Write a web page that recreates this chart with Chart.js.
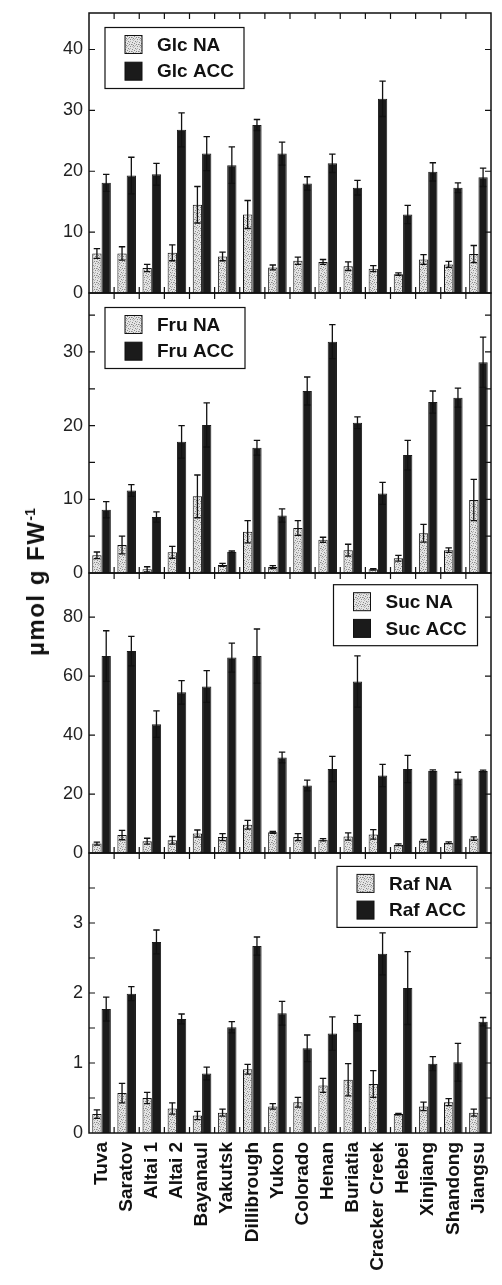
<!DOCTYPE html>
<html>
<head>
<meta charset="utf-8">
<title>Sugar content by accession</title>
<script src="https://cdn.jsdelivr.net/npm/chart.js@4.4.0/dist/chart.umd.min.js"></script>
<style>
  html, body { margin: 0; padding: 0; background: #fff; }
  #wrap { position: relative; width: 502px; height: 1285px; overflow: hidden; }
  .panel { position: absolute; left: 0; width: 502px; }
  #ytitle {
    position: absolute; left: 36px; top: 582px;
    transform: translate(-50%, -50%) rotate(-90deg);
    font: bold 24px "Liberation Sans", Arial, sans-serif;
    letter-spacing: 1.5px; white-space: nowrap; color: #111;
  }
  #ytitle sup { font-size: 14px; letter-spacing: 0; }
</style>
</head>
<body>
<div id="wrap">
  <div class="panel" style="top:3px;height:300px"><canvas id="glcChart"></canvas></div>
  <div class="panel" style="top:283px;height:300px"><canvas id="fruChart"></canvas></div>
  <div class="panel" style="top:563px;height:300px"><canvas id="sucChart"></canvas></div>
  <div class="panel" style="top:843px;height:442px"><canvas id="rafChart"></canvas></div>
  <div id="ytitle">µmol g FW<sup>-1</sup></div>
</div>
<script>
// Accessions (shared x axis)
const categories = ['Tuva', 'Saratov', 'Altai 1', 'Altai 2', 'Bayanaul', 'Yakutsk', 'Dillibrough', 'Yukon',
    'Colorado', 'Henan', 'Buriatia', 'Cracker Creek', 'Hebei', 'Xinjiang', 'Shandong', 'Jiangsu'];

// Glucose
const glcNA     = [6.5, 6.5, 4.1, 6.6, 14.5, 6.0, 12.9, 4.2, 5.3, 5.1, 4.4, 4.0, 3.1, 5.5, 4.7, 6.4];
const glcNAErr  = [0.8, 1.1, 0.6, 1.3, 3.0, 0.7, 2.3, 0.4, 0.6, 0.4, 0.7, 0.5, 0.2, 0.8, 0.5, 1.4];
const glcACC    = [18.1, 19.3, 19.5, 26.8, 22.9, 21.0, 27.6, 22.9, 18.0, 21.3, 17.3, 31.9, 12.9, 19.9, 17.3, 19.0];
const glcACCErr = [1.4, 3.0, 1.8, 2.8, 2.8, 3.0, 0.9, 1.9, 1.1, 1.5, 1.2, 2.9, 1.5, 1.5, 0.8, 1.5];

// Fructose
const fruNA     = [2.4, 3.8, 0.5, 2.8, 10.4, 1.1, 5.6, 0.8, 6.1, 4.5, 3.1, 0.5, 2.0, 5.4, 3.1, 9.9];
const fruNAErr  = [0.45, 1.2, 0.35, 0.8, 2.9, 0.2, 1.5, 0.2, 1.0, 0.35, 0.8, 0.1, 0.4, 1.2, 0.3, 2.8];
const fruACC    = [8.6, 11.2, 7.6, 17.8, 20.1, 2.9, 17.0, 7.8, 24.7, 31.4, 20.4, 10.8, 16.0, 23.2, 23.8, 28.6];
const fruACCErr = [1.1, 0.8, 0.7, 2.2, 3.0, 0.1, 1.0, 0.9, 1.9, 2.3, 0.8, 1.5, 2.0, 1.5, 1.3, 3.4];

// Sucrose
const sucNA     = [3.2, 6.1, 4.0, 4.3, 6.6, 5.4, 9.6, 7.0, 5.4, 4.5, 5.6, 6.3, 2.8, 4.2, 3.5, 4.9];
const sucNAErr  = [0.5, 1.6, 1.0, 1.3, 1.2, 1.2, 1.5, 0.3, 1.2, 0.4, 1.2, 1.6, 0.3, 0.4, 0.3, 0.6];
const sucACC    = [66.8, 68.5, 43.7, 54.5, 56.5, 66.3, 66.8, 32.4, 22.9, 28.5, 58.2, 26.3, 28.5, 27.9, 25.3, 27.8];
const sucACCErr = [8.6, 5.0, 4.5, 4.0, 5.4, 4.9, 9.2, 1.8, 1.8, 4.3, 8.7, 3.8, 4.6, 0.3, 2.1, 0.3];

// Raffinose
const rafNA     = [0.27, 0.57, 0.50, 0.35, 0.25, 0.29, 0.91, 0.38, 0.44, 0.68, 0.76, 0.70, 0.27, 0.38, 0.44, 0.29];
const rafNAErr  = [0.06, 0.14, 0.08, 0.08, 0.06, 0.05, 0.07, 0.04, 0.07, 0.10, 0.23, 0.19, 0.01, 0.06, 0.05, 0.05];
const rafACC    = [1.77, 1.99, 2.73, 1.63, 0.85, 1.51, 2.67, 1.71, 1.21, 1.42, 1.57, 2.56, 2.07, 0.99, 1.01, 1.59];
const rafACCErr = [0.17, 0.10, 0.17, 0.07, 0.09, 0.08, 0.13, 0.17, 0.19, 0.24, 0.11, 0.30, 0.52, 0.10, 0.27, 0.06];

const FONT = '"Liberation Sans", Arial, sans-serif';
const INK = '#111';

// Light stippled fill used for the NA bars (fixed, irregular dot layout)
function makeStipple() {
    const c = document.createElement('canvas');
    c.width = 7; c.height = 7;
    const g = c.getContext('2d');
    g.fillStyle = '#e4e4e4';
    g.fillRect(0, 0, 7, 7);
    g.fillStyle = '#888';
    [[0, 0], [4, 1], [2, 3], [6, 4], [1, 5], [5, 6], [3, 6]].forEach(([x, y]) => g.fillRect(x, y, 1, 1));
    g.fillStyle = '#b4b4b4';
    [[2, 0], [6, 1], [0, 2], [4, 3], [3, 4], [6, 6], [1, 1]].forEach(([x, y]) => g.fillRect(x, y, 1, 1));
    return g.createPattern(c, 'repeat');
}
const stipple = makeStipple();

/**
 * Draws +/- error bars on top of every bar, read from dataset.errors
 */
const errorBarPlugin = {
    id: 'errorBars',
    afterDatasetsDraw(chart) {
        const ctx = chart.ctx;
        const yScale = chart.scales.y;
        chart.data.datasets.forEach((ds, di) => {
            const meta = chart.getDatasetMeta(di);
            meta.data.forEach((bar, i) => {
                const v = ds.data[i];
                const e = ds.errors[i];
                const yHi = yScale.getPixelForValue(v + e);
                const yLo = yScale.getPixelForValue(Math.max(0, v - e));
                const cap = 3.2;
                ctx.save();
                ctx.strokeStyle = INK;
                ctx.lineWidth = 1.3;
                ctx.beginPath();
                ctx.moveTo(bar.x, yLo);
                ctx.lineTo(bar.x, yHi);
                ctx.moveTo(bar.x - cap, yHi);
                ctx.lineTo(bar.x + cap, yHi);
                ctx.moveTo(bar.x - cap, yLo);
                ctx.lineTo(bar.x + cap, yLo);
                ctx.stroke();
                ctx.restore();
            });
        });
    }
};

/**
 * Box frame with inward tick marks on all four sides
 */
const framePlugin = {
    id: 'frame',
    afterDraw(chart) {
        const ctx = chart.ctx;
        const a = chart.chartArea;
        const xScale = chart.scales.x;
        const yScale = chart.scales.y;
        const len = 6;
        ctx.save();
        ctx.strokeStyle = INK;
        ctx.lineWidth = 1.2;
        ctx.beginPath();
        // category boundaries, top and bottom
        for (let i = 1; i < categories.length; i++) {
            const px = xScale.getPixelForValue(i - 0.5);
            ctx.moveTo(px, a.top);
            ctx.lineTo(px, a.top + len);
            ctx.moveTo(px, a.bottom);
            ctx.lineTo(px, a.bottom - len);
        }
        // value ticks, left and right
        yScale.ticks.forEach(t => {
            if (t.value <= yScale.min || t.value >= yScale.max) return;
            const py = yScale.getPixelForValue(t.value);
            ctx.moveTo(a.left, py);
            ctx.lineTo(a.left + len, py);
            ctx.moveTo(a.right, py);
            ctx.lineTo(a.right - len, py);
        });
        ctx.stroke();
        ctx.lineWidth = 1.5;
        ctx.strokeRect(a.left, a.top, a.right - a.left, a.bottom - a.top);
        ctx.restore();
    }
};

/**
 * Boxed legend drawn inside the plot area
 */
const boxLegendPlugin = {
    id: 'boxLegend',
    afterDraw(chart, args, opts) {
        const ctx = chart.ctx;
        const a = chart.chartArea;
        const w = opts.width, h = 61;
        const bx = opts.align === 'right' ? a.right - opts.inset - w : a.left + opts.inset;
        const by = a.top + opts.offsetY;
        ctx.save();
        ctx.fillStyle = '#fff';
        ctx.fillRect(bx, by, w, h);
        ctx.strokeStyle = INK;
        ctx.lineWidth = 1.2;
        ctx.strokeRect(bx, by, w, h);
        ctx.font = 'bold 19px ' + FONT;
        ctx.textBaseline = 'middle';
        chart.data.datasets.forEach((ds, k) => {
            const sy = by + 8 + k * 26.7;
            ctx.fillStyle = ds.backgroundColor;
            ctx.fillRect(bx + 20, sy, 17, 18);
            ctx.lineWidth = 1;
            ctx.strokeRect(bx + 20, sy, 17, 18);
            ctx.fillStyle = INK;
            ctx.fillText(ds.label, bx + 52, sy + 10);
        });
        ctx.restore();
    }
};

function createPanel(canvasId, p) {
    const ctx = document.getElementById(canvasId);
    return new Chart(ctx, {
        type: 'bar',
        data: {
            labels: categories,
            datasets: [
                {
                    label: p.naLabel,
                    data: p.na,
                    errors: p.naErr,
                    backgroundColor: stipple,
                    borderColor: INK,
                    borderWidth: 1
                },
                {
                    label: p.accLabel,
                    data: p.acc,
                    errors: p.accErr,
                    backgroundColor: '#1b1b1b',
                    borderColor: '#1b1b1b',
                    borderWidth: 1
                }
            ]
        },
        options: {
            responsive: true,
            maintainAspectRatio: false,
            animation: false,
            devicePixelRatio: 1,
            categoryPercentage: 0.74,
            barPercentage: 1.0,
            layout: {
                padding: { top: 10, bottom: p.bottom ? 0 : 10, left: 0, right: 11 }
            },
            plugins: {
                legend: { display: false },
                tooltip: { enabled: false },
                boxLegend: p.legend
            },
            scales: {
                x: {
                    display: !!p.bottom,
                    grid: { display: false, drawTicks: false },
                    border: { display: false },
                    ticks: {
                        autoSkip: false,
                        minRotation: 90,
                        maxRotation: 90,
                        padding: 9,
                        color: INK,
                        font: { family: FONT, size: 19, weight: 'bold' }
                    },
                    afterFit: scale => {
                        scale.height = p.bottom ? 152 : 0;
                        scale.paddingLeft = 0;
                        scale.paddingRight = 0;
                    }
                },
                y: {
                    min: 0,
                    max: p.max,
                    grid: { display: false, drawTicks: false },
                    border: { display: false },
                    ticks: {
                        stepSize: p.step,
                        includeBounds: false,
                        padding: 6,
                        color: '#222',
                        font: { family: FONT, size: 18 },
                        callback: v => (v <= p.labelMax && Math.abs(v / p.labelStep - Math.round(v / p.labelStep)) < 1e-6) ? v : ''
                    },
                    afterFit: scale => {
                        scale.width = 89;
                        // let the frame sit exactly on the layout padding
                        scale.paddingTop = 0;
                        scale.paddingBottom = 0;
                    }
                }
            }
        },
        plugins: [errorBarPlugin, framePlugin, boxLegendPlugin]
    });
}

createPanel('glcChart', {
    naLabel: 'Glc NA', accLabel: 'Glc ACC',
    na: glcNA, naErr: glcNAErr, acc: glcACC, accErr: glcACCErr,
    max: 46, step: 10, labelStep: 10, labelMax: 40,
    legend: { align: 'left', inset: 16, offsetY: 14.5, width: 139 }
});
createPanel('fruChart', {
    naLabel: 'Fru NA', accLabel: 'Fru ACC',
    na: fruNA, naErr: fruNAErr, acc: fruACC, accErr: fruACCErr,
    max: 38, step: 5, labelStep: 10, labelMax: 30,
    legend: { align: 'left', inset: 16, offsetY: 14.5, width: 140 }
});
createPanel('sucChart', {
    naLabel: 'Suc NA', accLabel: 'Suc ACC',
    na: sucNA, naErr: sucNAErr, acc: sucACC, accErr: sucACCErr,
    max: 95, step: 20, labelStep: 20, labelMax: 80,
    legend: { align: 'right', inset: 13.5, offsetY: 11.7, width: 144 }
});
createPanel('rafChart', {
    naLabel: 'Raf NA', accLabel: 'Raf ACC',
    na: rafNA, naErr: rafNAErr, acc: rafACC, accErr: rafACCErr,
    max: 4, step: 0.5, labelStep: 1, labelMax: 3,
    legend: { align: 'right', inset: 14, offsetY: 13.4, width: 140 },
    bottom: true
});
</script>
</body>
</html>
